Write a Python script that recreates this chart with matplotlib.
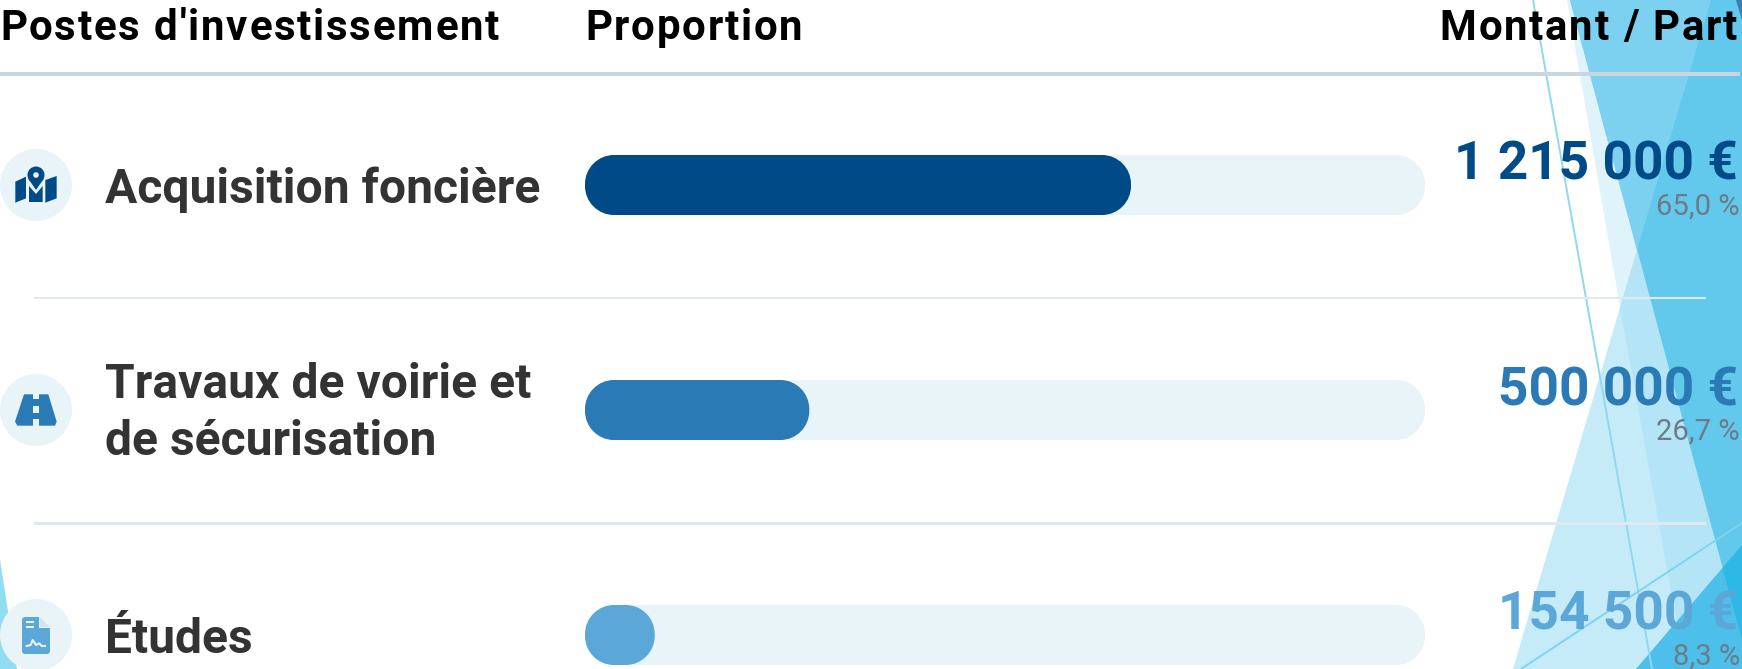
import matplotlib
matplotlib.use("Agg")
import matplotlib.pyplot as plt
from matplotlib.patches import Polygon, Circle, FancyBboxPatch, Rectangle, PathPatch
from matplotlib.path import Path
from matplotlib.text import Text

headers = ["Postes d'investissement", "Proportion", "Montant / Part"]
categories = ["Acquisition foncière", "Travaux de voirie et\nde sécurisation", "Études"]
amounts = ["1 215 000 €", "500 000 €", "154 500 €"]
shares = [65.0, 26.7, 8.3]
share_labels = ["65,0 %", "26,7 %", "8,3 %"]
colors = ["#004B87", "#2A7AB5", "#5BA7D7"]

W, H = 1742, 669
fig = plt.figure(figsize=(W / 100, H / 100), dpi=100, facecolor="white")
ax = fig.add_axes([0, 0, 1, 1])
ax.set_xlim(0, W); ax.set_ylim(H, 0); ax.axis("off")
FONT = "Roboto"
TRACK_BG = "#E8F4F8"


class SpacedText(Text):
    """A single text artist drawn with CSS-like letter spacing (in pixels)."""

    def __init__(self, *args, spacing=0.0, **kwargs):
        super().__init__(*args, **kwargs)
        self._spacing = spacing

    def draw(self, renderer):
        if not self.get_visible():
            return
        s = self.get_text()
        fp = self.get_fontproperties()
        x, y = self.get_transform().transform(self.get_unitless_position())
        width = lambda t: renderer.get_text_width_height_descent(t, fp, False)[0] if t else 0
        total = width(s) + self._spacing * (len(s) - 1)
        if self.get_ha() == "right":
            x -= total
        if renderer.flipy():
            y = renderer.get_canvas_width_height()[1] - y
        gc = renderer.new_gc()
        gc.set_foreground(self.get_color())
        gc.set_antialiased(True)
        for i, ch in enumerate(s):
            if ch != " ":
                renderer.draw_text(gc, x + width(s[:i]) + i * self._spacing, y, ch, fp, 0, ismath=False, mtext=None)
        gc.restore()


def poly(pts, c, z=1):
    ax.add_patch(Polygon(pts, closed=True, fc=c, ec="none", zorder=z))


# Decorative background facets
poly([(1711, 0), (1742, 0), (1742, 669), (1513, 669)], "#C5EBF9")
poly([(1567, 0), (1711, 0), (1620, 307)], "#DFF3FB")
poly([(1620, 307), (1711, 0), (1742, 0), (1742, 669), (1685, 669)], "#B3E5F7")
poly([(1570, 0), (1742, 0), (1742, 640)], "#62C9EC")
poly([(1570, 0), (1711, 0), (1637, 250)], "#7DD1F0")
poly([(1636, 669), (1742, 545), (1742, 669)], "#4CC0EA")
poly([(1722.5, 568), (1742, 545), (1742, 640)], "#2DB8E6")
poly([(1736, 0), (1742, 0), (1742, 20)], "#3A7FB0")
poly([(0, 560), (17, 669), (0, 669)], "#8FDCF3")
ax.plot([1533, 1652], [0, 669], color="#8FD8F0", lw=1.4, zorder=2)
ax.plot([1521, 1742], [669, 523], color="#7DD4F0", lw=1.4, zorder=2)

# Header
for label, xpos, ha in zip(headers, [0, 585, 1737], ["left", "left", "right"]):
    t = SpacedText(xpos, 39.5, label, spacing=1.8, fontsize=30.24, family=FONT, weight="bold",
                   color="black", va="baseline", ha=ha, zorder=5)
    ax.add_artist(t)
ax.add_patch(Rectangle((0, 72), 1740, 4, fc="#CBD5E0", ec="none", zorder=3))
for y, h in [(297, 2), (522, 3)]:
    ax.add_patch(Rectangle((34, y), 1672, h, fc="#E2E8F0", ec="none", zorder=3))

row_y = [185, 410, 635]

# Rows' text and icon discs
for i, yc in enumerate(row_y):
    ax.add_patch(Circle((36, yc), 36, fc=TRACK_BG, ec="none", zorder=3))
    if "\n" in categories[i]:
        ax.text(105, yc + 3.5, categories[i], fontsize=34.56, family=FONT, weight="bold", color="#333333",
                va="center", ha="left", linespacing=1.33, zorder=5)
    else:
        ax.text(105, yc + 18, categories[i], fontsize=34.56, family=FONT, weight="bold", color="#333333",
                va="baseline", ha="left", zorder=5)
    ax.text(1738, yc - 5, amounts[i], fontsize=38.3, family=FONT, weight="bold", color=colors[i],
            va="baseline", ha="right", zorder=5)
    ax.text(1740, yc + 30, share_labels[i], fontsize=21, family=FONT, color="#6B7C88",
            va="baseline", ha="right", zorder=5)


# Icons
def ipoly(pts, c, ox, oy, z=4):
    ax.add_patch(Polygon([(ox + a / 3, oy + b / 3) for a, b in pts], closed=True, fc=c, ec="none",
                         zorder=z, joinstyle="round"))


c = colors[0]
ipoly([(46, 155), (78, 140), (78, 205), (46, 218)], c, 0, 130)
ipoly([(87, 168), (108, 192), (128, 168), (128, 216), (87, 216)], c, 0, 130)
ipoly([(136, 150), (170, 138), (170, 205), (136, 218)], c, 0, 130)
ax.add_patch(Circle((36, 130 + 45), 8.5, fc=c, ec="none", zorder=4))
ipoly([(84, 145), (132, 145), (108, 180)], c, 0, 130)
ax.add_patch(Circle((36, 130 + 45), 2.8, fc=TRACK_BG, ec="none", zorder=5))

c = colors[1]
ipoly([(72, 103), (145, 103), (170, 185), (165, 197), (52, 197), (45, 185)], c, 0, 360)
for t_, b_ in [(103, 118), (137, 160), (178, 197)]:
    ipoly([(100, t_), (116, t_), (116, b_), (100, b_)], TRACK_BG, 0, 360, 5)

c = colors[2]
ax.add_patch(FancyBboxPatch((22, 617), 28, 37, boxstyle="round,pad=0,rounding_size=3", fc=c, ec="none", zorder=4))
ipoly([(118, 168), (152, 168), (152, 203), (118, 203)], TRACK_BG, 0, 560, 5)
ipoly([(120, 172), (148, 200), (120, 200)], "#CFE3F1", 0, 560, 6)
for yy in (187, 202):
    ax.plot([80 / 3, 100 / 3], [560 + yy / 3] * 2, color=TRACK_BG, lw=1.5, zorder=5)
sx = [80, 92, 98, 108, 118, 125, 135]
sy = [258, 255, 240, 255, 250, 258, 258]
ax.plot([v / 3 for v in sx], [560 + v / 3 for v in sy], color=TRACK_BG, lw=1.5, zorder=5)

# Progress bars, on an axes whose x scale runs 0-100 %
TRACK_L, TRACK_W, BAR_H, R = 585, 840, 60, 29
bx = fig.add_axes([TRACK_L / W, 0, TRACK_W / W, 1])
bx.set_xlim(0, 100); bx.set_ylim(H, 0); bx.axis("off"); bx.patch.set_alpha(0)
u = TRACK_W / 100


def pill(share, yc):
    """Rounded bar from 0 to `share` on the percent scale, with true circular corners."""
    rx, ry, k = R / u, R, 0.5523
    x0, x1, y0, y1 = 0, share, yc - BAR_H / 2, yc + BAR_H / 2
    verts = [(x0 + rx, y0), (x1 - rx, y0),
             (x1 - rx + k * rx, y0), (x1, y0 + ry - k * ry), (x1, y0 + ry),
             (x1, y1 - ry),
             (x1, y1 - ry + k * ry), (x1 - rx + k * rx, y1), (x1 - rx, y1),
             (x0 + rx, y1),
             (x0 + rx - k * rx, y1), (x0, y1 - ry + k * ry), (x0, y1 - ry),
             (x0, y0 + ry),
             (x0, y0 + ry - k * ry), (x0 + rx - k * rx, y0), (x0 + rx, y0),
             (x0 + rx, y0)]
    L, C = Path.LINETO, Path.CURVE4
    codes = [Path.MOVETO, L, C, C, C, L, C, C, C, L, C, C, C, L, C, C, C, Path.CLOSEPOLY]
    return Path(verts, codes)


for yc, share, col in zip(row_y, shares, colors):
    bx.add_patch(PathPatch(pill(100, yc), fc=TRACK_BG, ec="none", zorder=1))
    bx.add_patch(PathPatch(pill(share, yc), fc=col, ec="none", zorder=2))

fig.savefig("out.png", dpi=100)
